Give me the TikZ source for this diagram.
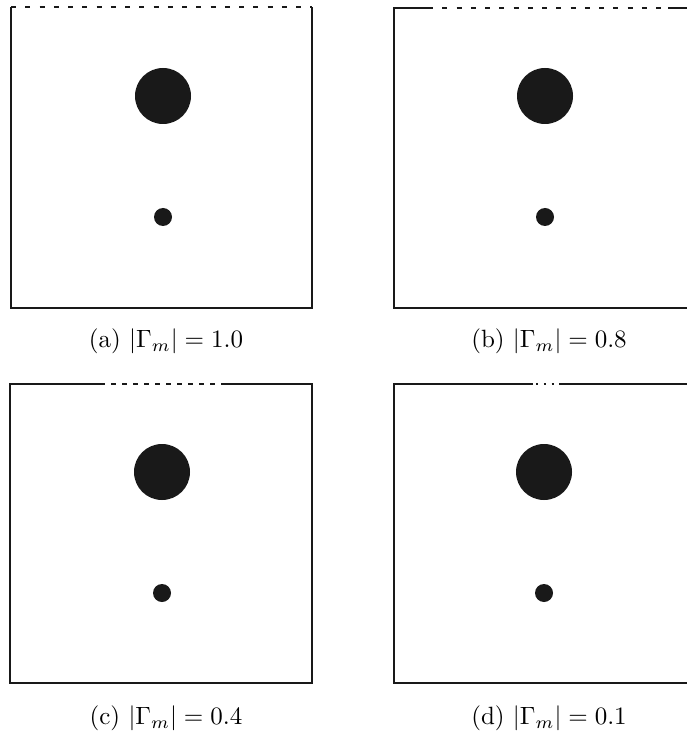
\documentclass[tikz,border=0pt]{standalone}
\usepackage{tikz}

\begin{document}
\begin{tikzpicture}[x=0.4pt,y=-0.4pt,
  wall/.style={line width=0.8pt,black!90},
  aperture/.style={line width=0.8pt,black!90,dash pattern=on 2pt off 3.7pt},
  scatterer/.style={circle,fill=black!90,inner sep=0pt}]
  \useasboundingbox (0,0) rectangle (686,731);
  \draw[wall] (11,7) -- (11,308) -- (312,308) -- (312,7);
  \draw[aperture] (11,7) -- (312,7);
  \draw[wall] (428,8) -- (394,8) -- (394,308) -- (695,308) -- (695,8) -- (668,8);
  \draw[aperture] (428,8) -- (668,8);
  \draw[wall] (100,384) -- (10,384) -- (10,683) -- (312,683) -- (312,384) -- (222,384);
  \draw[aperture,dash pattern=on 2pt off 2.4pt] (100,384) -- (222,384);
  \draw[wall] (533,384) -- (394,384) -- (394,683) -- (695,683) -- (695,384) -- (561,384);
  \draw[aperture,dash pattern=on 0.8pt off 2.3pt,dash phase=-1.2pt] (533,384) -- (561,384);
  \node[scatterer,minimum size=22.4pt] (bigA) at (163,96) {};
  \node[scatterer,minimum size=7.2pt] (smallA) at (163,217) {};
  \node[scatterer,minimum size=22.4pt] (bigB) at (545,96) {};
  \node[scatterer,minimum size=7.2pt] (smallB) at (545,217) {};
  \node[scatterer,minimum size=22.4pt] (bigC) at (162,472) {};
  \node[scatterer,minimum size=7.2pt] (smallC) at (162,593) {};
  \node[scatterer,minimum size=22.4pt] (bigD) at (544,472) {};
  \node[scatterer,minimum size=7.2pt] (smallD) at (544,593) {};
  \node (capA) at (166,341) {(a) $|\Gamma_m| = 1.0$};
  \node (capB) at (549,341) {(b) $|\Gamma_m| = 0.8$};
  \node (capC) at (166,718) {(c) $|\Gamma_m| = 0.4$};
  \node (capD) at (549,718) {(d) $|\Gamma_m| = 0.1$};
\end{tikzpicture}
\end{document}
